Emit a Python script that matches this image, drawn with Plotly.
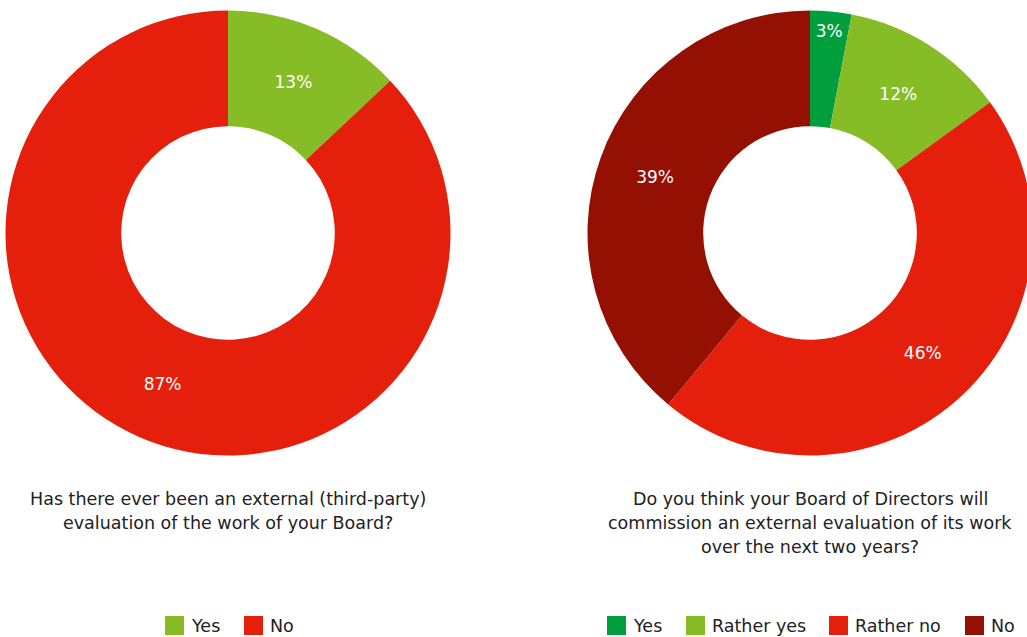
import plotly.graph_objects as go

# Survey results (percent of respondents)
q1_labels = ["Yes", "No"]
q1_values = [13, 87]
q1_colors = ["#86BC25", "#E4200C"]
q1_title = [
    "Has there ever been an external (third-party)",
    "evaluation of the work of your Board?",
]

q2_labels = ["Yes", "Rather yes", "Rather no", "No"]
q2_values = [3, 12, 46, 39]
q2_colors = ["#009E3D", "#86BC25", "#E4200C", "#931002"]
q2_title = [
    "Do you think your Board of Directors will",
    "commission an external evaluation of its work",
    "over the next two years?",
]

# Canvas (pixels); the right donut runs slightly past the visible edge
W, H = 1037, 637
FONT = "DejaVu Sans"
TEXT_COLOR = "#222222"
TEXT_SIZE = 17.5
R_OUT = 222.5
HOLE = 0.48


def px(x):
    return x / W


def py(y):
    return 1 - y / H


def domain(cx, cy, r):
    return dict(x=[px(cx - r), px(cx + r)], y=[py(cy + r), py(cy - r)])


charts = [
    dict(labels=q1_labels, values=q1_values, colors=q1_colors, title=q1_title,
         cx=228, legend_x=[165, 244]),
    dict(labels=q2_labels, values=q2_values, colors=q2_colors, title=q2_title,
         cx=810, legend_x=[607, 686, 829, 965]),
]
CY = 233
TITLE_Y0, TITLE_DY = 499, 24
LEGEND_Y, SWATCH = 625.5, 19

fig = go.Figure()
shapes, annotations = [], []

for c in charts:
    fig.add_trace(go.Pie(
        labels=c["labels"], values=c["values"],
        marker=dict(colors=c["colors"], line=dict(width=0)),
        hole=HOLE, sort=False, direction="clockwise", rotation=0,
        texttemplate="%{value}%", textposition="inside",
        insidetextorientation="horizontal",
        textfont=dict(family=FONT, size=17, color="white"),
        domain=domain(c["cx"], CY, R_OUT),
        showlegend=False, hoverinfo="label+percent",
    ))
    # question text under each donut
    for i, line in enumerate(c["title"]):
        annotations.append(dict(
            x=px(c["cx"]), y=py(TITLE_Y0 + i * TITLE_DY), xref="paper", yref="paper",
            text=line, showarrow=False, xanchor="center", yanchor="middle",
            font=dict(family=FONT, size=TEXT_SIZE, color=TEXT_COLOR),
        ))
    # legend swatches and labels
    for lab, col, lx in zip(c["labels"], c["colors"], c["legend_x"]):
        shapes.append(dict(
            type="rect", xref="paper", yref="paper",
            x0=px(lx), x1=px(lx + SWATCH),
            y0=py(LEGEND_Y + SWATCH / 2), y1=py(LEGEND_Y - SWATCH / 2),
            fillcolor=col, line=dict(width=0),
        ))
        annotations.append(dict(
            x=px(lx + SWATCH + 5), y=py(LEGEND_Y), xref="paper", yref="paper",
            text=lab, showarrow=False, xanchor="left", yanchor="middle",
            font=dict(family=FONT, size=TEXT_SIZE, color=TEXT_COLOR),
        ))

fig.update_layout(
    width=W, height=H,
    margin=dict(l=0, r=0, t=0, b=0),
    paper_bgcolor="white", plot_bgcolor="white",
    uniformtext=dict(minsize=17, mode="show"),
    shapes=shapes, annotations=annotations,
    font=dict(family=FONT, color=TEXT_COLOR),
)

fig.write_html(
    "out.html",
    config={"displayModeBar": False},
    post_script="document.body.style.overflow='hidden';document.documentElement.style.overflow='hidden';",
)
